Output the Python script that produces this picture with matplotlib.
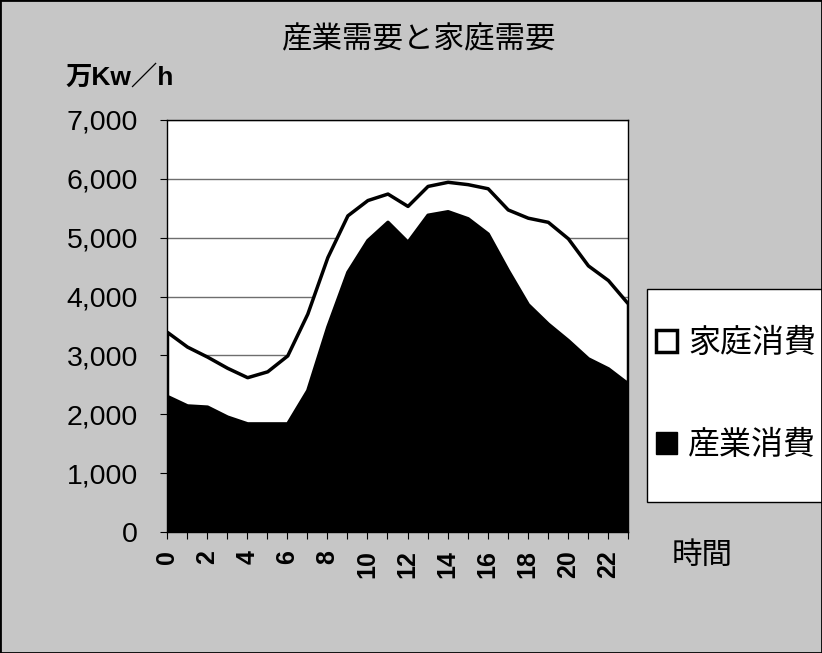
import matplotlib.pyplot as plt
import numpy as np
from matplotlib.patches import Rectangle

# hourly electricity demand (万Kw/h)
hours = list(range(24))
industry = [2310, 2150, 2130, 1960, 1845, 1845, 1845, 2410, 3490, 4420, 4960, 5270,
            4930, 5390, 5450, 5330, 5070, 4450, 3870, 3540, 3260, 2950, 2780, 2520]
household = [1090, 1000, 850, 830, 785, 885, 1155, 1300, 1180, 960, 680, 480,
             610, 490, 500, 580, 770, 1030, 1470, 1730, 1730, 1580, 1500, 1360]
labels = ['家庭消費', '産業消費']
yticks = [0, 1000, 2000, 3000, 4000, 5000, 6000, 7000]

jp = ['Noto Sans CJK JP', 'DejaVu Sans']
num = ['Liberation Sans', 'Noto Sans CJK JP']

fig = plt.figure(figsize=(8.22, 6.53), dpi=100, facecolor='#c6c6c6')
ax = fig.add_axes([167/822, 1-532/653, 461/822, 412/653])

ind = np.array(industry)
tot = ind + np.array(household)

ax.set_axisbelow(True)
ax.yaxis.grid(True, color='#6e6e6e', lw=1)
p_ind = ax.fill_between(hours, 0, ind, facecolor='black', edgecolor='black', lw=1)
p_home = ax.fill_between(hours, ind, tot, facecolor='white', edgecolor='black', lw=2.5)

ax.set_xlim(0, 23)
ax.set_ylim(0, 7000)
ax.set_yticks(yticks)
ax.set_yticklabels([f'{v:,}' for v in yticks], family=num, fontsize=20.5)
ax.set_xticks(hours)
ax.set_xticklabels([str(h) if h % 2 == 0 else '' for h in hours],
                   rotation=90, family=num, fontsize=18, fontweight='bold')
ax.tick_params(axis='y', length=5, width=0.8, pad=16)
ax.tick_params(axis='x', length=5, width=0.8, pad=8)
for s in ax.spines.values():
    s.set_linewidth(1)
    s.set_color('black')

fig.text(419/822, 1-40/653, '産業需要と家庭需要', family=jp, fontsize=22,
         ha='center', va='center')
fig.text(65/822, 1-77/653, '万Kw／h', family=num, fontsize=19,
         fontweight='bold', ha='left', va='center')
fig.text(702/822, 1-555/653, '時間', family=jp, fontsize=22,
         ha='center', va='center')

# legend box
fig.patches.append(Rectangle((647/822, 1-502/653), 0.25, 213/653,
                             transform=fig.transFigure, facecolor='white',
                             edgecolor='black', lw=1, zorder=1))
leg = fig.legend([p_home, p_ind], labels, loc='upper left',
                 bbox_to_anchor=(656/822, 1-327/653), frameon=False,
                 prop={'family': jp, 'size': 23}, handlelength=0.66,
                 handleheight=0.66, handletextpad=0.35, labelspacing=2.2,
                 borderpad=0, borderaxespad=0)
leg.set_zorder(5)

fig.patches.append(Rectangle((0, 0), 1, 1, transform=fig.transFigure,
                             fill=False, edgecolor='black', lw=2))

fig.savefig('out.png', dpi=100, facecolor=fig.get_facecolor())
